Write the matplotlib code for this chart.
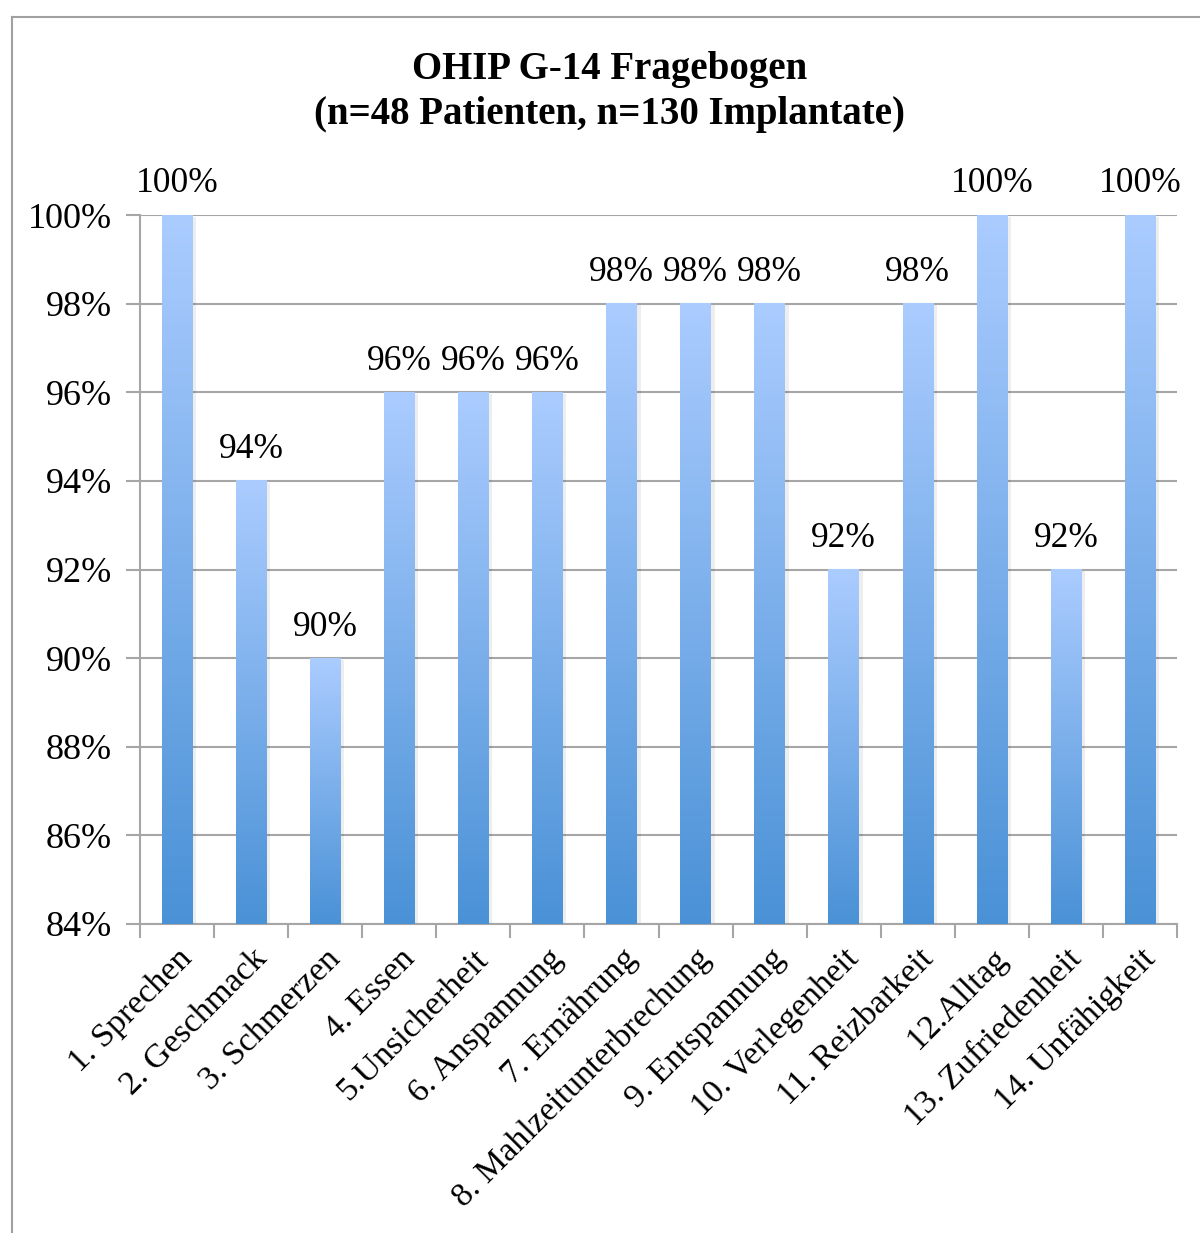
import matplotlib
matplotlib.use("Agg")
import matplotlib.pyplot as plt
import numpy as np
from matplotlib.lines import Line2D

categories = ["1. Sprechen", "2. Geschmack", "3. Schmerzen", "4. Essen", "5.Unsicherheit",
              "6. Anspannung", "7. Ernährung", "8. Mahlzeitunterbrechung", "9. Entspannung",
              "10. Verlegenheit", "11. Reizbarkeit", "12.Alltag", "13. Zufriedenheit", "14. Unfähigkeit"]
values = [100, 94, 90, 96, 96, 96, 98, 98, 98, 92, 98, 100, 92, 100]
yticks = [84, 86, 88, 90, 92, 94, 96, 98, 100]
title = "OHIP G-14 Fragebogen\n(n=48 Patienten, n=130 Implantate)"

plt.rcParams['font.family'] = ['Liberation Serif', 'DejaVu Serif']

W, H = 1200, 1233
fig = plt.figure(figsize=(W / 100, H / 100), dpi=100)
ax = fig.add_axes([140 / W, 1 - 924 / H, 1037 / W, 709 / H])

ymin, ymax = 84, 100
x = np.arange(len(categories))
bars = ax.bar(x, values, width=0.41, color='none', edgecolor='none', zorder=3)

top_c = np.array([0.67, 0.80, 1.0])
bot_c = np.array([0.29, 0.57, 0.84])
t = np.linspace(0, 1, 256)[:, None]
grad = (top_c[None, :] * (1 - t) + bot_c[None, :] * t)[:, None, :]
for r in bars:
    x0, w, h = r.get_x(), r.get_width(), r.get_height()
    # faint shadow
    ax.imshow(np.zeros((2, 2, 3)), extent=[x0 + 0.03, x0 + w + 0.05, ymin, h - 0.05],
              aspect='auto', alpha=0.07, zorder=2.5)
    ax.imshow(grad, extent=[x0, x0 + w, ymin, h], aspect='auto', zorder=3,
              interpolation='bilinear')
    ax.text(x0 + w / 2, h + 0.33, f"{h:.0f}%", ha='center', va='bottom', fontsize=25.5, zorder=4)

ax.set_xlim(-0.5, len(categories) - 0.5)
ax.set_ylim(ymin, ymax)
ax.set_yticks(yticks)
ax.set_yticklabels([f"{v}%" for v in yticks], fontsize=26)
ax.yaxis.grid(True, color='#a6a6a6', linewidth=1.5, zorder=0)
ax.set_axisbelow(True)

ax.set_xticks(np.arange(-0.5, len(categories), 1.0))
ax.set_xticklabels([])
ax.tick_params(axis='x', length=10, width=1.5, color='#a6a6a6', direction='out')
ax.tick_params(axis='y', length=10, width=1.5, color='#a6a6a6', direction='out', pad=10)
ax.set_xticks(x, minor=True)
ax.set_xticklabels(categories, minor=True, rotation=45, ha='right', rotation_mode='anchor',
                   fontsize=24.5)
ax.tick_params(axis='x', which='minor', length=0, pad=14)

for s in ['top', 'right']:
    ax.spines[s].set_visible(False)
for s in ['left', 'bottom']:
    ax.spines[s].set_color('#a6a6a6')
    ax.spines[s].set_linewidth(1.5)

fig.text(610 / W, 1 - 92 / H, title, ha='center', va='center', fontsize=28,
         fontweight='bold', linespacing=1.3)

# outer frame
fig.add_artist(Line2D([11.5 / W, 11.5 / W], [0, 1 - 17 / H], transform=fig.transFigure,
                      color='#a0a0a0', linewidth=1.5))
fig.add_artist(Line2D([11.5 / W, 1], [1 - 17 / H, 1 - 17 / H], transform=fig.transFigure,
                      color='#a0a0a0', linewidth=1.5))

fig.savefig("out.png", dpi=100, facecolor='white')
